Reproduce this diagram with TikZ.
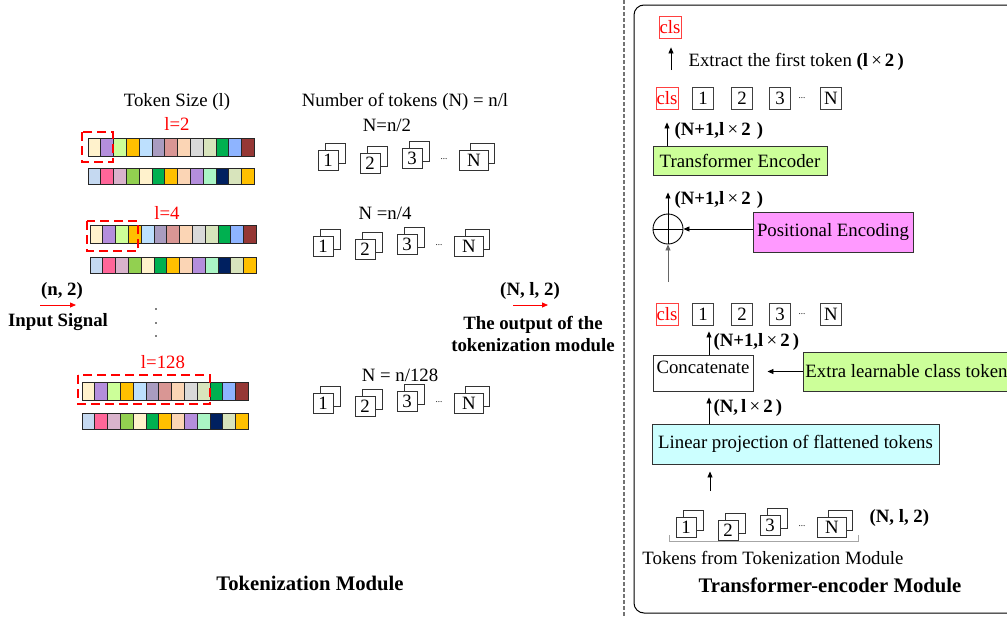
\documentclass[tikz,border=0pt]{standalone}
\usepackage{fontspec}
\setmainfont{Liberation Serif}
\usetikzlibrary{arrows.meta}
\definecolor{cream}{RGB}{255,242,204}
\definecolor{lav}{RGB}{180,142,220}
\definecolor{lgreen}{RGB}{204,255,153}
\definecolor{gold}{RGB}{255,192,0}
\definecolor{lblue}{RGB}{189,224,254}
\definecolor{gpurple}{RGB}{169,156,192}
\definecolor{drose}{RGB}{217,150,148}
\definecolor{peach}{RGB}{251,213,181}
\definecolor{lgrey}{RGB}{217,217,217}
\definecolor{pgreen}{RGB}{216,228,188}
\definecolor{green}{RGB}{0,176,80}
\definecolor{blue}{RGB}{142,180,255}
\definecolor{dred}{RGB}{149,55,53}
\definecolor{bgrey}{RGB}{197,217,241}
\definecolor{pink}{RGB}{255,102,153}
\definecolor{mauve}{RGB}{217,179,204}
\definecolor{ygreen}{RGB}{146,208,80}
\definecolor{mint}{RGB}{170,245,197}
\definecolor{navy}{RGB}{0,32,96}
\definecolor{pemag}{RGB}{255,153,255}
\definecolor{lpcyan}{RGB}{204,255,255}
\begin{document}
\begin{tikzpicture}[x=1pt, y=-1pt,
    font=\fontsize{18.8}{22}\selectfont,
    cell/.style={draw=black!85, line width=0.9pt},
    selbox/.style={draw=red, line width=2pt, dash pattern=on 9pt off 5pt},
    tokf/.style={draw=black!80, fill=white, line width=0.8pt, minimum width=20pt, minimum height=20pt, inner sep=0pt},
    tokb/.style={tokf},
    dotsnode/.style={font=\fontsize{9}{9}\selectfont, inner sep=0pt},
    clsbox/.style={draw=red!75, text=red, line width=0.8pt, minimum width=22pt, minimum height=22pt, inner sep=0pt},
    numbox/.style={draw=black!75, line width=0.8pt, minimum width=21pt, minimum height=22pt, inner sep=0pt},
    blk/.style={draw=black!80, line width=0.9pt, inner sep=2pt},
    arr/.style={-{Triangle[length=6pt,width=5pt]}, line width=0.8pt},
    rarr/.style={arr, red},
    bold/.style={font=\fontsize{18.8}{22}\selectfont\bfseries},
    head/.style={font=\fontsize{20.7}{24}\selectfont\bfseries}]
  \useasboundingbox (0,0) rectangle (1007,616);
  \clip (0,0) rectangle (1007,616);

  % token strips
  \node (tsize) at (177,102) {Token Size (l)};
  \node[text=red] (l2) at (177,124) {l=2};
  \node[text=red] (l4) at (167,213) {l=4};
  \node[text=red] (l128) at (163,362) {l=128};
  \foreach \sx/\sa/\sb in {88/138/168, 90/225/257, 82/382/413} {
    \foreach \c [count=\i from 0] in {cream,lav,lgreen,gold,lblue,gpurple,drose,peach,lgrey,pgreen,green,blue,dred}
      \draw[cell, fill=\c] (\sx+\i*12.8,\sa) rectangle ++(12.8,18);
    \foreach \c [count=\i from 0] in {bgrey,pink,mauve,ygreen,cream,green,gold,peach,lav,mint,navy,pgreen,gold}
      \draw[cell, fill=\c] (\sx+\i*12.8,\sb) rectangle ++(12.8,16);
  }
  \draw[selbox] (82,132) rectangle (113,162);
  \draw[selbox] (87,221) rectangle (138,251);
  \draw[selbox] (78,375) rectangle (210,404);
  \foreach \yy in {309,323,336}
    \fill (156,\yy) circle (0.8pt);

  % input / output
  \node[bold] (nin) at (62,291) {(n, 2)};
  \node[bold] (insig) at (58,322) {Input Signal};
  \coordinate (ina) at (40,305);
  \coordinate (inb) at (76,305);
  \draw[rarr] (ina) -- (inb);
  \node[bold] (nout) at (530,291) {(N, l, 2)};
  \node[bold, align=center] (outsig) at (533,334) {The output of the\\tokenization module};
  \coordinate (outa) at (513,305);
  \coordinate (outb) at (548,305);
  \draw[rarr] (outa) -- (outb);

  % token stacks
  \node (ntok) at (405,102) {Number of tokens (N) = n/l};
  \node (n2) at (387,125) {N=n/2};
  \node (n4) at (385,213) {N =n/4};
  \node (n128) at (400,375) {N = n/128};
  \foreach \rx/\ry/\r in {328/160/a, 323/246/b, 323/403/c, 686/527/d} {
    \foreach \dx/\dy/\t in {0/0/1, 42/3.5/2, 84/-1.5/3} {
      \node[tokb] (\r\t-b) at (\rx+\dx+7,\ry+\dy-7) {};
      \node[tokf] (\r\t) at (\rx+\dx,\ry+\dy) {\t};
    }
    \node[dotsnode] (\r-d) at (\rx+116,\ry-1) {...};
    \node[tokb, minimum width=24pt] (\r N-b) at (\rx+146+8,\ry-7) {};
    \node[tokf, minimum width=29pt] (\r N) at (\rx+146,\ry) {N};
  }
  \node[head] (tokmod) at (310,583) {Tokenization Module};

  % separator and panel
  \draw[black!55, line width=1.3pt, dash pattern=on 4pt off 2pt] (624,0) -- (624,616);
  \draw[rounded corners=10pt, line width=1pt] (634,5) rectangle (1030,613);

  % transformer encoder module
  \node[clsbox] (cls0) at (670,27) {cls};
  \foreach \ry/\r in {98/u, 314/v} {
    \node[clsbox] (\r-cls) at (667,\ry) {cls};
    \foreach \x/\t in {703/1, 742/2, 780/3}
      \node[numbox] (\r\t) at (\x,\ry) {\t};
    \node[dotsnode] (\r-d) at (802,\ry) {...};
    \node[numbox] (\r-N) at (831,\ry) {N};
  }
  \coordinate (ext) at (671,70);
  \draw[arr, shorten >=9pt] (ext) -- (ext |- cls0.south);
  \node[anchor=west] (extl) at (685,62) {Extract the first token \textbf{(l}\,×\,\textbf{2\,)}};

  \node[blk, fill=lgreen, minimum width=174pt, minimum height=29pt] (TE) at (740,160.5) {Transformer Encoder};
  \draw[arr, shorten >=13pt] (TE.north -| u-cls) -- (u-cls.south);
  \node[anchor=west] (te-l) at (671,131) {\textbf{(N+1,l}\,×\,\textbf{2\,\,)}};

  \node[draw, circle, line width=0.9pt, minimum size=30pt, inner sep=0pt] (pl) at (668,229) {};
  \draw[line width=0.8pt] (pl.north) -- (pl.south) (pl.west) -- (pl.east);
  \draw[arr, shorten >=17pt] (pl.north) -- (pl.north |- TE.south);
  \node[anchor=west] (pl-l) at (671,200) {\textbf{(N+1,l}\,×\,\textbf{2\,\,)}};
  \node[blk, fill=pemag, minimum width=160pt, minimum height=40pt] (PE) at (833,232) {Positional Encoding};
  \draw[arr] (PE.west |- pl) -- (pl.east);
  \coordinate (pin) at (668,282);
  \draw[arr, black!60] (pin) -- (pl.south);

  \node[blk, minimum width=100pt, minimum height=36pt, text depth=12pt] (cc) at (703,373) {Concatenate};
  \draw[arr] ([xshift=6pt]cc.north) -- ([xshift=6pt,yshift=-6pt]v1.south);
  \node[anchor=west] (cc-l) at (710,342) {\textbf{(N+1,l}\,×\,\textbf{2\,)}};
  \node[blk, fill=lgreen, anchor=west, minimum height=39pt] (ex) at (803,371.5) {Extra learnable class token};
  \draw[arr, shorten >=14pt] (ex.west) -- (cc.east |- ex.west);

  \node[blk, fill=lpcyan, minimum width=287pt, minimum height=40pt] (LP) at (795.5,444) {Linear projection of flattened tokens};
  \coordinate (cx) at ([xshift=6pt]cc.south);
  \draw[arr] (cx |- LP.north) -- ([yshift=-6pt]cx);
  \node[anchor=west] (lp-l) at (710,408) {\textbf{(N,\,l}\,×\,\textbf{2\,)}};
  \coordinate (lin) at (710,491);
  \draw[arr, shorten >=7pt] (lin) -- (lin |- LP.south);

  \node[bold, anchor=west] (dsz) at (866,518) {(N, l, 2)};
  \draw[black!35, line width=0.8pt] (669,535) -- (669,541) -- (858,541) -- (858,535);
  \node (tfrom) at (773,558) {Tokens from Tokenization Module};
  \node[head] (tmod) at (830,585) {Transformer-encoder Module};
\end{tikzpicture}
\end{document}
